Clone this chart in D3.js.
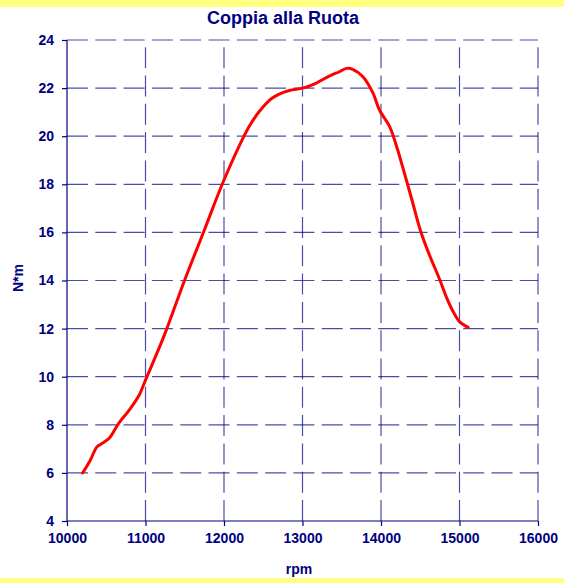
<!DOCTYPE html>
<html><head><meta charset="utf-8">
<script src="https://cdn.jsdelivr.net/npm/d3@7"></script>
<style>html,body{margin:0;padding:0;background:#fff;}svg{display:block;}</style>
</head><body>
<script>
const rpm = [10200, 10300, 10380, 10450, 10540, 10660, 10790, 10920, 11000, 11240, 11490, 11750, 12000, 12320, 12480, 12620, 12830, 13000, 13170, 13340, 13470, 13560, 13640, 13770, 13900, 13980, 14110, 14200, 14280, 14390, 14500, 14600, 14750, 14830, 14920, 15000, 15110];
const torque = [6.0, 6.55, 7.08, 7.23, 7.45, 8.07, 8.6, 9.24, 9.86, 11.73, 13.94, 16.1, 18.18, 20.4, 21.15, 21.6, 21.9, 22.0, 22.2, 22.5, 22.68, 22.82, 22.78, 22.47, 21.78, 21.09, 20.4, 19.56, 18.67, 17.4, 16.1, 15.2, 14.02, 13.33, 12.7, 12.29, 12.05];
const xTicks = [10000, 11000, 12000, 13000, 14000, 15000, 16000];
const yTicks = [4, 6, 8, 10, 12, 14, 16, 18, 20, 22, 24];
const title = "Coppia alla Ruota";
const xTitle = "rpm";
const yTitle = "N*m";

const W = 564, H = 583;
const m = {left: 67, right: 26, top: 40, bottom: 62};
const navy = "#000080";
const font = "Arial, 'Liberation Sans', sans-serif";

const svg = d3.select("body").append("svg").attr("width", W).attr("height", H);
svg.append("rect").attr("width", W).attr("height", H).attr("fill", "#fff");
svg.append("rect").attr("x", 0).attr("y", 0).attr("width", W).attr("height", 7).attr("fill", "#ffff80");
svg.append("rect").attr("x", 0).attr("y", 578).attr("width", W).attr("height", 5).attr("fill", "#ffff80");

const x = d3.scaleLinear().domain([10000, 16000]).range([m.left, W - m.right]);
const y = d3.scaleLinear().domain([4, 24]).range([H - m.bottom, m.top]);

// grid
const grid = svg.append("g").attr("stroke", navy).attr("stroke-width", 1.2).attr("stroke-opacity", 0.7).attr("stroke-dasharray", "21,7.3");
grid.selectAll("line.h").data(yTicks.filter(d => d > 4)).join("line")
  .attr("x1", x(10000)).attr("x2", x(16000)).attr("y1", d => y(d)).attr("y2", d => y(d));
grid.selectAll("line.v").data(xTicks.filter(d => d > 10000)).join("line")
  .attr("x1", d => x(d)).attr("x2", d => x(d)).attr("y1", y(4)).attr("y2", y(24));

// axes
const xAxis = d3.axisBottom(x).tickValues(xTicks).tickSize(5).tickPadding(7).tickFormat(d3.format("d"));
const yAxis = d3.axisLeft(y).tickValues(yTicks).tickSize(5).tickPadding(8).tickFormat(d3.format("d"));
const gx = svg.append("g").attr("transform", `translate(0,${y(4)})`).call(xAxis);
const gy = svg.append("g").attr("transform", `translate(${x(10000)},0)`).call(yAxis);
[gx, gy].forEach(g => {
  g.select(".domain").attr("stroke", navy).attr("stroke-width", 1.2);
  g.selectAll(".tick line").attr("stroke", navy).attr("stroke-width", 1.2);
  g.selectAll(".tick text").attr("fill", navy).attr("font-family", font).attr("font-weight", "bold").attr("font-size", 14);
});
gx.select(".domain").attr("d", `M${x(10000)},0H${x(16000)}`);
gy.select(".domain").attr("d", `M0,${y(4)}V${y(24)}`);

// line
const line = d3.line().x((d, i) => x(rpm[i])).y((d, i) => y(torque[i])).curve(d3.curveCatmullRom.alpha(0.5));
svg.append("path").datum(rpm).attr("d", line).attr("fill", "none").attr("stroke", "#ff0000").attr("stroke-width", 3).attr("stroke-linejoin", "round").attr("stroke-linecap", "round");

// titles
svg.append("text").attr("x", 283).attr("y", 24).attr("text-anchor", "middle").attr("fill", navy)
  .attr("font-family", font).attr("font-weight", "bold").attr("font-size", 18).text(title);
svg.append("text").attr("x", 299).attr("y", 574).attr("text-anchor", "middle").attr("fill", navy)
  .attr("font-family", font).attr("font-weight", "bold").attr("font-size", 14).text(xTitle);
svg.append("text").attr("transform", "translate(23,278) rotate(-90)").attr("text-anchor", "middle").attr("fill", navy)
  .attr("font-family", font).attr("font-weight", "bold").attr("font-size", 14).text(yTitle);
</script>
</body></html>
